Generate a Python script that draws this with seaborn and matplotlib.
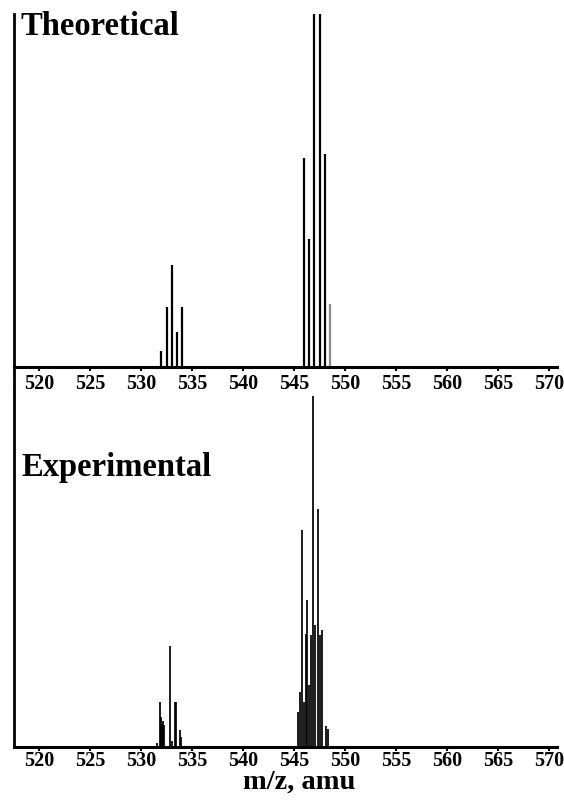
import numpy as np
import pandas as pd
import matplotlib
matplotlib.use("Agg")
import matplotlib.pyplot as plt
from matplotlib.lines import Line2D
import seaborn as sns

# ---- data (relative intensities, tallest theoretical = 100) ----
theo_mz = [532.0, 532.5, 533.0, 533.5, 534.0,
           546.0, 546.5, 547.0, 547.5, 548.0, 548.5]
theo_int = [4.5, 16.8, 28.7, 9.9, 17.0,
            59.1, 36.1, 100.0, 100.0, 60.2, 17.9]
theo_color = ["black"] * 10 + ["#8a8a8a"]

exp_mz = [531.60, 531.83, 531.92, 532.03, 532.20, 532.30, 532.87, 533.07,
          533.33, 533.46, 533.79, 533.92,
          545.42, 545.62, 545.78, 546.00, 546.18, 546.27, 546.50, 546.67,
          546.83, 547.06, 547.32, 547.58, 547.78, 548.14, 548.30]
exp_int = [1.1, 12.8, 8.5, 6.5, 7.4, 6.0, 28.7, 1.7,
           12.8, 12.8, 4.8, 2.6,
           9.9, 15.6, 61.6, 12.8, 32.1, 41.8, 17.6, 31.8,
           100.0, 34.7, 67.6, 31.8, 33.2, 5.7, 5.1]

xticks = [520, 525, 530, 535, 540, 545, 550, 555, 560, 565, 570]
xlim = (517.55, 570.78)

sns.set_style("ticks")
plt.rcParams["font.family"] = ["Liberation Serif", "DejaVu Serif"]
plt.rcParams["font.weight"] = "bold"
for k in ("text.color", "axes.labelcolor", "xtick.color", "ytick.color",
          "axes.edgecolor"):
    plt.rcParams[k] = "black"

fig = plt.figure(figsize=(5.64, 8.0), dpi=100)
W, H = 564.0, 800.0

def fx(px):
    return px / W

def fy(py):
    return 1 - py / H

ax1 = fig.add_axes([fx(14), fy(366.7), fx(557) - fx(14), fy(14) - fy(366.7)])
ax2 = fig.add_axes([fx(14), fy(746.5), fx(557) - fx(14), fy(392) - fy(746.5)])

ax1.vlines(theo_mz, 0, theo_int, colors=theo_color, linewidth=1.6)
ax2.vlines(exp_mz, 0, exp_int, colors="black", linewidth=1.25)

ax1.set_ylim(0, 100)
ax2.set_ylim(0, 101)

for ax, pad in ((ax1, 2.5), (ax2, 0.5)):
    ax.set_xlim(*xlim)
    ax.set_xticks(xticks)
    ax.set_xticklabels([str(t) for t in xticks], fontsize=14.5,
                       fontweight="bold", color="black")
    ax.set_yticks([])
    sns.despine(ax=ax, top=True, right=True)
    ax.spines["left"].set_linewidth(2.0)
    ax.spines["bottom"].set_linewidth(2.2)
    ax.spines["left"].set_color("black")
    ax.spines["bottom"].set_color("black")
    ax.tick_params(axis="x", direction="out", length=3, width=1.5, pad=pad,
                   colors="black")
    ax.set_facecolor("white")

# continuous left rule between the two panels
fig.add_artist(Line2D([fx(14), fx(14)], [fy(366.7), fy(392)],
                      color="black", linewidth=2.0))

fig.text(fx(20), fy(35), "Theoretical", fontsize=23.5, fontweight="bold",
         va="baseline", ha="left", color="black")
fig.text(fx(22), fy(476), "Experimental", fontsize=23.5, fontweight="bold",
         va="baseline", ha="left", color="black")

ax2.set_xlabel("m/z, amu", fontsize=20.5, fontweight="bold", color="black")
ax2.xaxis.set_label_coords((299 - 14) / 543.0, -(770 - 746.5) / 354.5)

fig.savefig("out.png", dpi=100, facecolor="white")
